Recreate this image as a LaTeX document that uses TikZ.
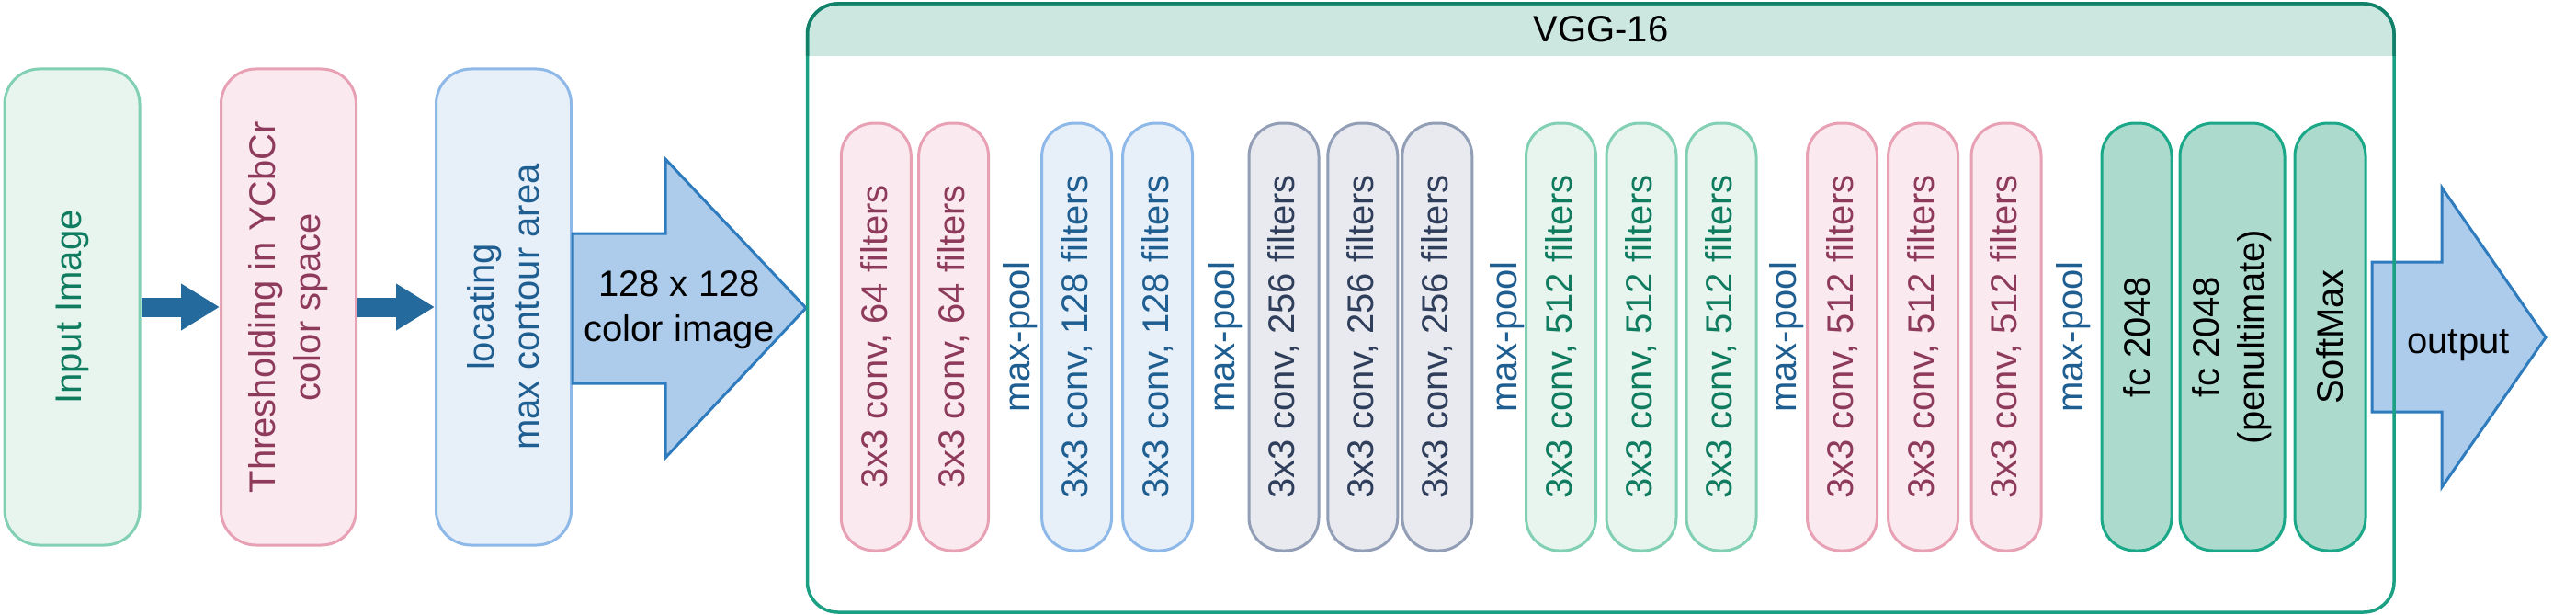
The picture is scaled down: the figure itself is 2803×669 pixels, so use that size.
\documentclass[tikz,border=0pt]{standalone}
\usepackage{fontspec}
\setmainfont{Liberation Sans}
\usetikzlibrary{arrows.meta}
\definecolor{gfill}{HTML}{E8F5EF}
\definecolor{gline}{HTML}{82D0B4}
\definecolor{gtext}{HTML}{0F7B5F}
\definecolor{pfill}{HTML}{FAE9EF}
\definecolor{pline}{HTML}{E8A0B4}
\definecolor{ptext}{HTML}{8E3B5B}
\definecolor{bfill}{HTML}{E7EFF9}
\definecolor{bline}{HTML}{8DB8E8}
\definecolor{btext}{HTML}{1E5E91}
\definecolor{sfill}{HTML}{E9EAEF}
\definecolor{sline}{HTML}{919EB6}
\definecolor{stext}{HTML}{2F3E5B}
\definecolor{ffill}{HTML}{ACDBCD}
\definecolor{fline}{HTML}{1BA889}
\definecolor{hdr}{HTML}{CCE7DF}
\definecolor{vggline}{HTML}{1BA084}
\definecolor{vggdark}{HTML}{13806A}
\definecolor{arrfill}{HTML}{ADCBEB}
\definecolor{arrline}{HTML}{2E7BBE}
\definecolor{flowc}{HTML}{246A9C}
\begin{document}
\begin{tikzpicture}[x=1pt,y=1pt,
  every node/.style={font=\fontsize{40}{49}\selectfont, inner sep=0pt},
  tall/.style={draw, line width=3pt, rounded corners=36pt, rotate=90, align=center,
               minimum width=465pt, minimum height=76pt},
  big/.style={tall, minimum width=518pt, minimum height=147pt, rounded corners=38pt},
  gbox/.style={fill=gfill, draw=gline, text=gtext},
  pbox/.style={fill=pfill, draw=pline, text=ptext},
  bbox/.style={fill=bfill, draw=bline, text=btext},
  sbox/.style={fill=sfill, draw=sline, text=stext},
  fbox/.style={fill=ffill, draw=fline, text=black},
  pool/.style={rotate=90, text=btext},
  flow/.style={line width=21pt, draw=flowc, -{Triangle[length=42pt,width=48pt]}},
  fat/.style={fill=arrfill, draw=arrline, line width=3pt, line join=miter},
]
\useasboundingbox (0,0) rectangle (2803,-669);

% left pipeline (rotated nodes: page-right = .south, page-left = .north)
\node[big,gbox] (in) at (78.5,-334) {Input Image};
\node[big,pbox] (thr) at (314,-334) {Thresholding in YCbCr\\color space};
\node[big,bbox] (loc) at (548,-334) {locating\\max contour area};
\draw[flow] (in.south) -- (thr.north);
\draw[flow] (thr.south) -- (loc.north);

% 128x128 arrow
\draw[fat] (623,-254) -- (724,-254) -- (724,-173) -- (877,-335) -- (724,-498) -- (724,-417) -- (623,-417) -- cycle;
\node[align=center] (img) at (739,-337.4) {128 x 128\\color image};

% VGG container background
\fill[white, rounded corners=33pt] (878.5,-4) rectangle (2605,-666);
\begin{scope}
  \clip[rounded corners=33pt] (878.5,-4) rectangle (2605,-666);
  \fill[hdr] (878.5,-4) rectangle (2605,-61);
\end{scope}
\node (vggtitle) at (1742,-32) {VGG-16};

% conv blocks
\node[tall,pbox] (c1a) at (953.3,-366.5) {3x3 conv, 64 filters};
\node[tall,pbox] (c1b) at (1037.6,-366.5) {3x3 conv, 64 filters};
\node[pool] (p1) at (1110,-366.5) {max-pool};
\node[tall,bbox] (c2a) at (1171.6,-366.5) {3x3 conv, 128 filters};
\node[tall,bbox] (c2b) at (1259.6,-366.5) {3x3 conv, 128 filters};
\node[pool] (p2) at (1333,-366.5) {max-pool};
\node[tall,sbox] (c3a) at (1397,-366.5) {3x3 conv, 256 filters};
\node[tall,sbox] (c3b) at (1482.8,-366.5) {3x3 conv, 256 filters};
\node[tall,sbox] (c3c) at (1563.8,-366.5) {3x3 conv, 256 filters};
\node[pool] (p3) at (1640,-366.5) {max-pool};
\node[tall,gbox] (c4a) at (1698.5,-366.5) {3x3 conv, 512 filters};
\node[tall,gbox] (c4b) at (1786,-366.5) {3x3 conv, 512 filters};
\node[tall,gbox] (c4c) at (1873,-366.5) {3x3 conv, 512 filters};
\node[pool] (p4) at (1944,-366.5) {max-pool};
\node[tall,pbox] (c5a) at (2004.5,-366.5) {3x3 conv, 512 filters};
\node[tall,pbox] (c5b) at (2092.6,-366.5) {3x3 conv, 512 filters};
\node[tall,pbox] (c5c) at (2183,-366.5) {3x3 conv, 512 filters};
\node[pool] (p5) at (2256,-366.5) {max-pool};
\node[tall,fbox] (fc1) at (2325,-366.5) {fc 2048};
\node[tall,fbox, minimum height=114pt] (fc2) at (2429,-366.5) {fc 2048\\(penultimate)};
\node[tall,fbox, minimum height=77pt] (soft) at (2535.5,-366.5) {SoftMax};

% output arrow
\draw[fat] (2581,-285) -- (2657,-285) -- (2657,-204) -- (2770,-367) -- (2657,-530) -- (2657,-448) -- (2581,-448) -- cycle;
\node[anchor=base] (out) at (2675,-384) {output};

% VGG container border on top
\node[draw=vggline, line width=3.5pt, rounded corners=33pt, minimum width=1726.5pt,
      minimum height=662pt] (vgg) at (1741.75,-335) {};
\begin{scope}
  \clip (860,0) rectangle (2620,-61);
  \draw[vggdark, line width=3.5pt, rounded corners=33pt] (878.5,-4) rectangle (2605,-666);
\end{scope}
\end{tikzpicture}
\end{document}
